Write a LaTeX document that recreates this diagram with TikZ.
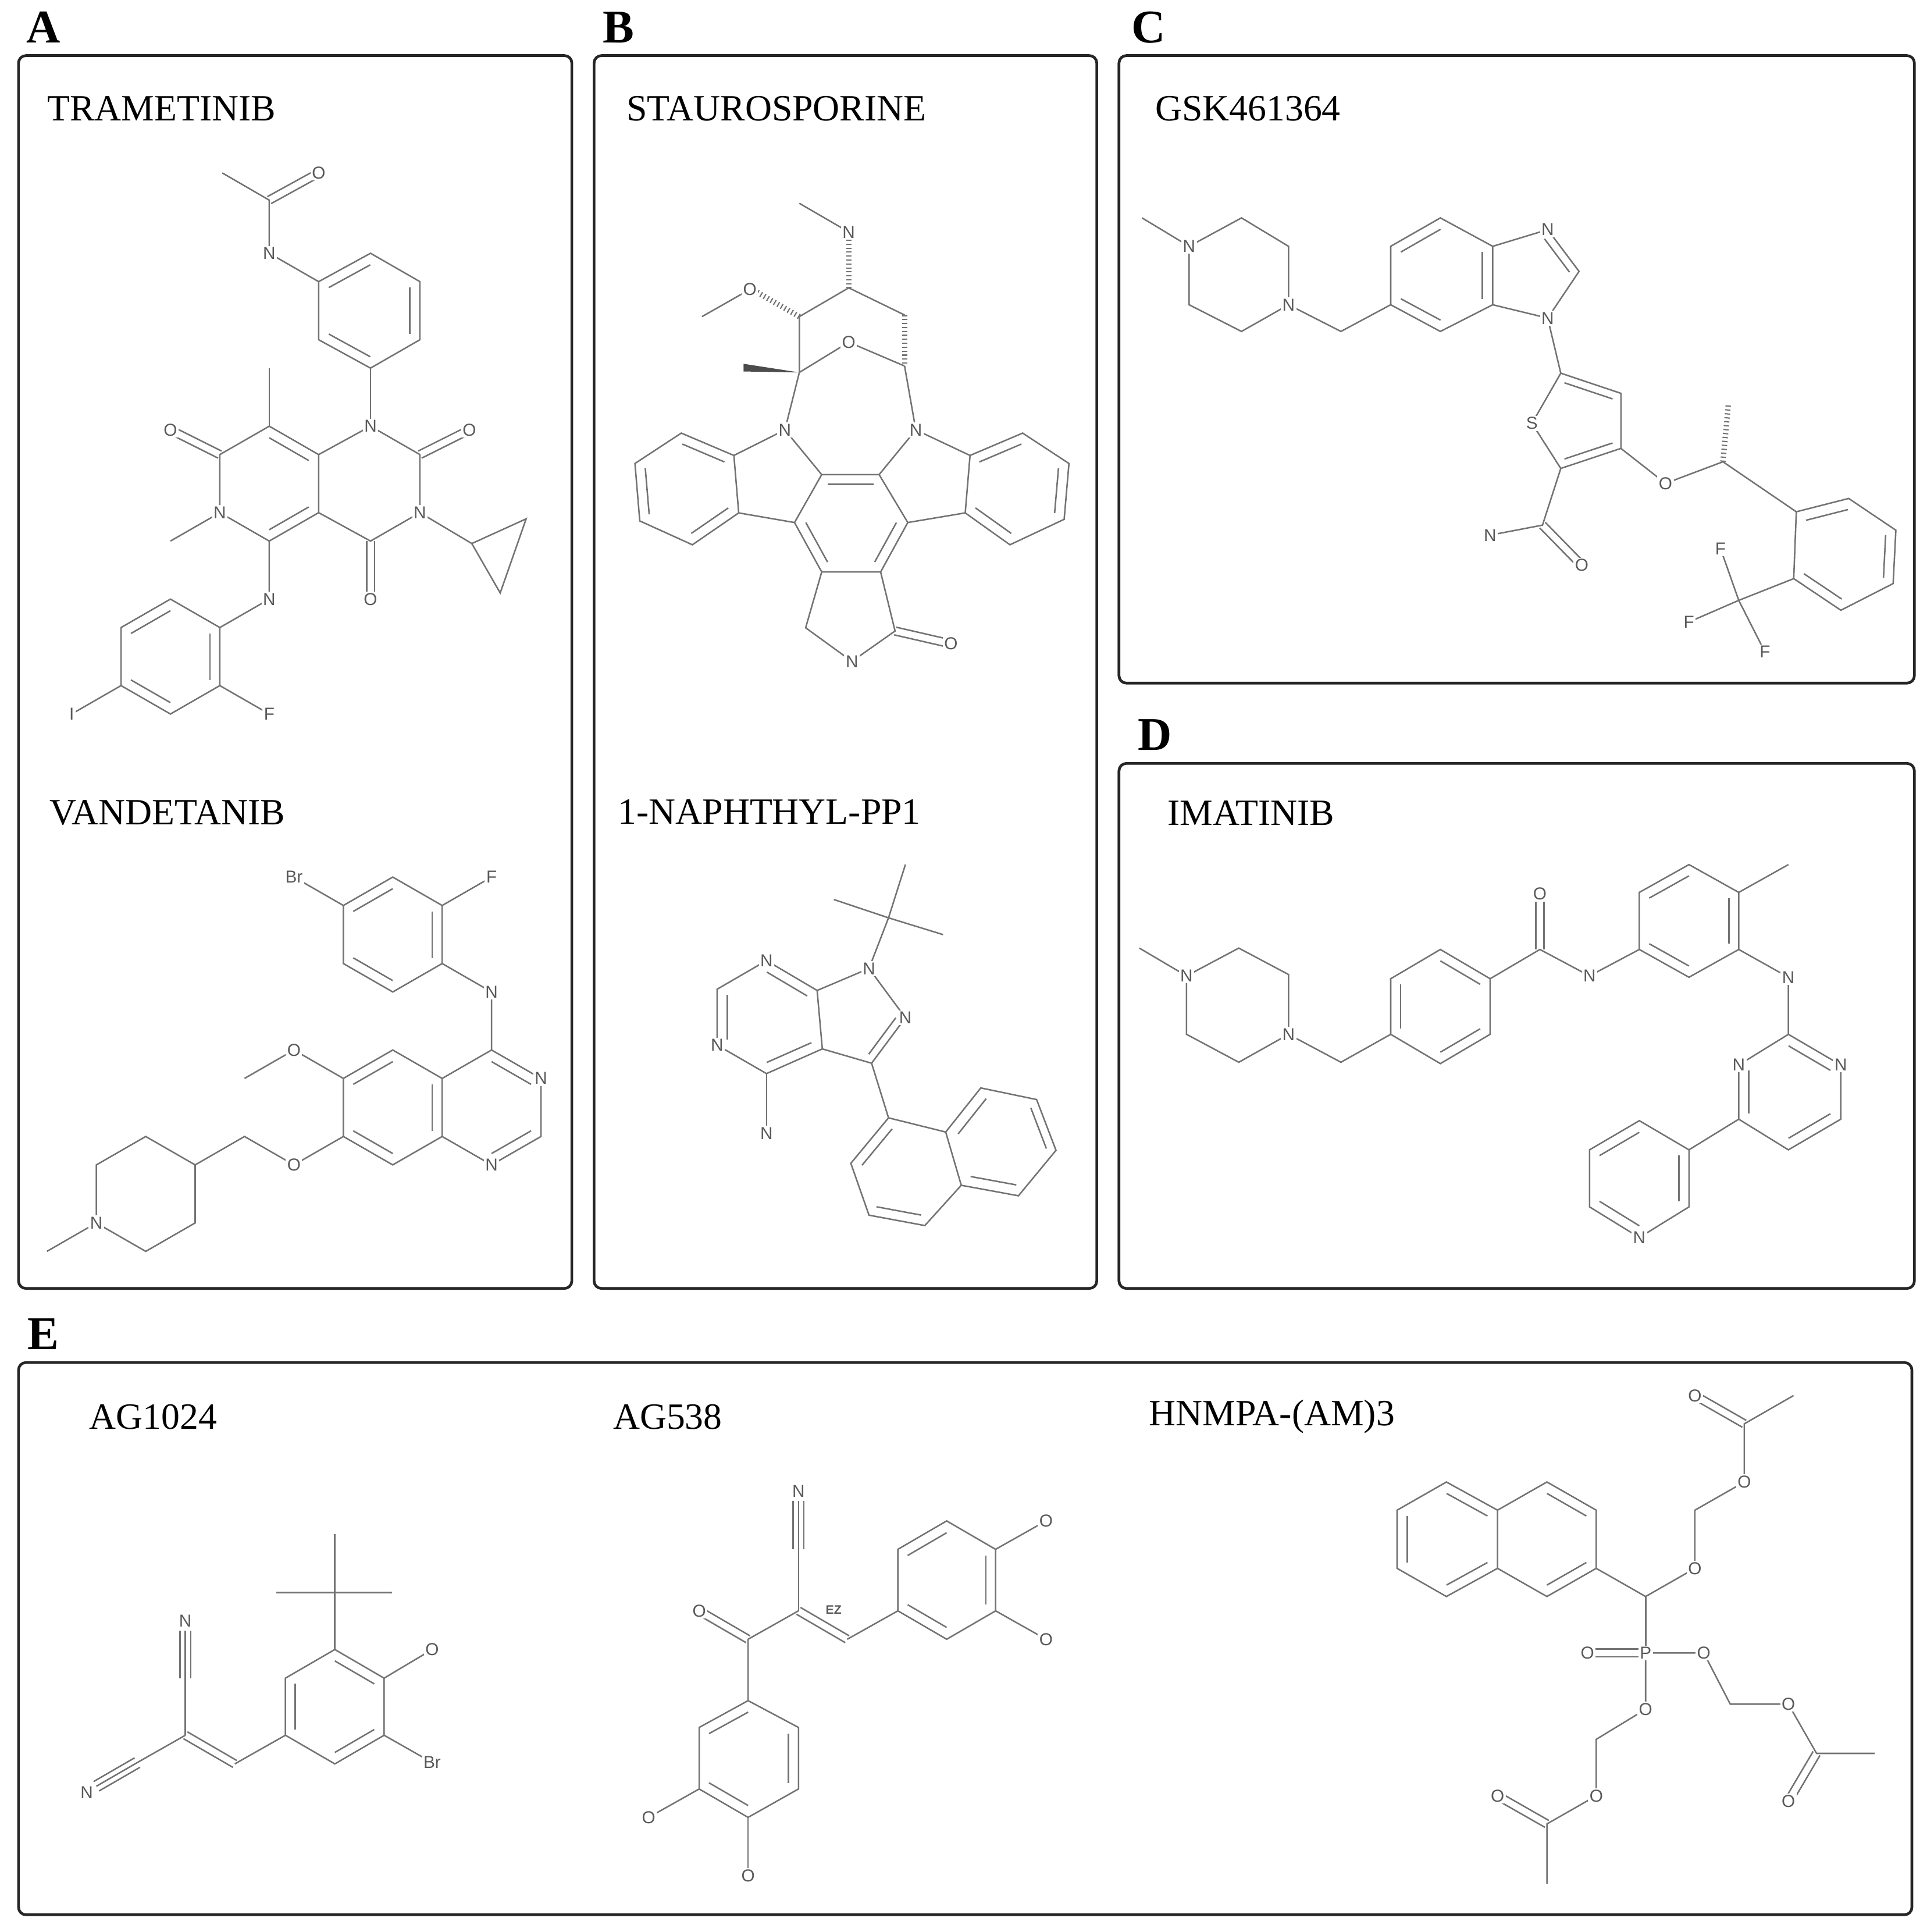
\documentclass[tikz,border=0pt]{standalone}
\usepackage{fontspec}
\setmainfont{Liberation Serif}
\newfontfamily\atomfont{Liberation Sans}
\usetikzlibrary{calc}

\newcommand{\ringdb}[3]{\draw[bond] ($(#1)!0.2!(#3)$) -- ($(#2)!0.2!(#3)$);}
\newcommand{\sidedb}[2]{\draw[bond] ($(#1)!1.6pt!90:(#2)$) -- ($(#2)!1.6pt!-90:(#1)$);
  \draw[bond] ($(#1)!1.6pt!-90:(#2)$) -- ($(#2)!1.6pt!90:(#1)$);}
\newcommand{\tripb}[2]{\draw[bond] (#1) -- (#2);
  \draw[bond] ($(#1)!2.2pt!90:(#2)$) -- ($(#2)!2.2pt!-90:(#1)$);
  \draw[bond] ($(#1)!2.2pt!-90:(#2)$) -- ($(#2)!2.2pt!90:(#1)$);}

\begin{document}
\begin{tikzpicture}[x=0.5pt, y=-0.5pt,
    bond/.style={draw=black!55, line width=0.6pt},
    hashb/.style={draw=black!55, line width=2.2pt, dash pattern=on 0.5pt off 1.1pt},
    atom/.style={fill=white, inner sep=0.6pt, text=black!65, font=\atomfont\fontsize{7}{8}\selectfont},
    panel/.style={draw=black!85, line width=1.1pt, rounded corners=3pt},
    title/.style={anchor=west, inner sep=0pt, font=\fontsize{15}{18}\selectfont},
    letter/.style={font=\bfseries\fontsize{19}{22}\selectfont}]
    \path[use as bounding box] (0,0) rectangle (1560,1564);

    % panels
    \draw[panel] (15,45) rectangle (463,1043);
    \draw[panel] (481,45) rectangle (888,1043);
    \draw[panel] (906,45) rectangle (1550,553);
    \draw[panel] (906,618) rectangle (1550,1043);
    \draw[panel] (15,1103) rectangle (1548,1550);
    \node[letter] (lA) at (35,22) {A};
    \node[letter] (lB) at (501,22) {B};
    \node[letter] (lC) at (930,22) {C};
    \node[letter] (lD) at (935,595) {D};
    \node[letter] (lE) at (35,1080) {E};

    \node[title] (tTra) at (38,88) {TRAMETINIB};
    \node[title] (tVan) at (40,658) {VANDETANIB};
    \node[title] (tSta) at (507,88) {STAUROSPORINE};
    \node[title] (tNap) at (500,657) {1-NAPHTHYL-PP1};
    \node[title] (tGsk) at (935,88) {GSK461364};
    \node[title] (tIma) at (945,658) {IMATINIB};
    \node[title] (tAga) at (72,1147) {AG1024};
    \node[title] (tAgb) at (496,1147) {AG538};
    \node[title] (tHnm) at (930,1147) {HNMPA-(AM)3};

    % trametinib
    \draw[bond] (180,140) -- (218,162) -- (218,205) -- (258,228);
    \sidedb{218,162}{258,140}
    \draw[bond] (258,228) -- (300,205) -- (340,228) -- (340,275) -- (300,298) -- (258,275) -- cycle;
    \ringdb{258,228}{300,205}{299,252} \ringdb{340,228}{340,275}{299,252} \ringdb{300,298}{258,275}{299,252}
    \draw[bond] (300,298) -- (300,345);
    \draw[bond] (300,345) -- (340,368) -- (340,415) -- (300,438) -- (258,415) -- (258,368) -- cycle;
    \draw[bond] (258,368) -- (218,345) -- (178,368) -- (178,415) -- (218,438) -- (258,415);
    \ringdb{258,368}{218,345}{218,392} \ringdb{258,415}{218,438}{218,392}
    \draw[bond] (218,345) -- (218,298);
    \sidedb{340,368}{380,348} \sidedb{300,438}{300,485} \sidedb{178,368}{138,348}
    \draw[bond] (178,415) -- (138,438);
    \draw[bond] (340,415) -- (382,440);
    \draw[bond] (382,440) -- (426,420) -- (405,480) -- cycle;
    \draw[bond] (218,438) -- (218,485) -- (178,508);
    \draw[bond] (178,508) -- (178,555) -- (138,578) -- (98,555) -- (98,508) -- (138,485) -- cycle;
    \ringdb{178,508}{178,555}{138,532} \ringdb{138,578}{98,555}{138,532} \ringdb{98,508}{138,485}{138,532}
    \draw[bond] (98,555) -- (58,578);
    \draw[bond] (178,555) -- (218,578);
    \node[atom] (t1) at (258,140) {O};
    \node[atom] (t2) at (218,205) {N};
    \node[atom] (t3) at (300,345) {N};
    \node[atom] (t4) at (380,348) {O};
    \node[atom] (t5) at (340,415) {N};
    \node[atom] (t6) at (300,485) {O};
    \node[atom] (t7) at (138,348) {O};
    \node[atom] (t8) at (178,415) {N};
    \node[atom] (t9) at (218,485) {N};
    \node[atom] (t10) at (58,578) {I};
    \node[atom] (t11) at (218,578) {F};

    % vandetanib
    \draw[bond] (278,733) -- (318,710) -- (358,733) -- (358,780) -- (318,803) -- (278,780) -- cycle;
    \ringdb{278,733}{318,710}{318,757} \ringdb{358,733}{358,780}{318,757} \ringdb{318,803}{278,780}{318,757}
    \draw[bond] (278,733) -- (238,710);
    \draw[bond] (358,733) -- (398,710);
    \draw[bond] (358,780) -- (398,803) -- (398,850);
    \draw[bond] (398,850) -- (438,873) -- (438,920) -- (398,943) -- (358,920) -- (358,873) -- cycle;
    \draw[bond] (358,873) -- (318,850) -- (278,873) -- (278,920) -- (318,943) -- (358,920);
    \ringdb{398,850}{438,873}{398,897} \ringdb{438,920}{398,943}{398,897}
    \ringdb{318,850}{278,873}{318,897} \ringdb{278,920}{318,943}{318,897} \ringdb{358,873}{358,920}{318,897}
    \draw[bond] (278,873) -- (238,850) -- (198,873);
    \draw[bond] (278,920) -- (238,943) -- (198,920) -- (158,943);
    \draw[bond] (158,943) -- (158,990) -- (118,1013) -- (78,990) -- (78,943) -- (118,920) -- cycle;
    \draw[bond] (78,990) -- (38,1013);
    \node[atom] (v1) at (238,710) {Br};
    \node[atom] (v2) at (398,710) {F};
    \node[atom] (v3) at (398,803) {N};
    \node[atom] (v4) at (438,873) {N};
    \node[atom] (v5) at (398,943) {N};
    \node[atom] (v6) at (238,850) {O};
    \node[atom] (v7) at (238,943) {O};
    \node[atom] (v8) at (78,990) {N};

    % staurosporine
    \draw[bond] (647.2,164.6) -- (687.2,187.8);
    \draw[hashb] (687.2,194) -- (687.2,233);
    \draw[bond] (687.2,233) -- (647.2,256.3) -- (647.2,301.5);
    \draw[hashb] (647.2,256.3) -- (612,236);
    \draw[bond] (607.1,234.3) -- (568.4,256.3);
    \draw[bond] (687.2,233) -- (732.4,255);
    \draw[hashb] (732.4,255) -- (732.4,296.3);
    \draw[bond] (647.2,301.5) -- (687.2,277) -- (732.4,296.3);
    \fill[black!70] (647.2,301.5) -- (602,294.5) -- (602,300.7) -- cycle;
    \draw[bond] (647.2,301.5) -- (635.5,348);
    \draw[bond] (732.4,296.3) -- (741.5,348);
    \draw[bond] (635.5,348) -- (594.2,368.7);
    \draw[bond] (635.5,348) -- (665.3,384.2);
    \draw[bond] (741.5,348) -- (785.4,368.7);
    \draw[bond] (741.5,348) -- (711.8,384.2);
    \draw[bond] (665.3,384.2) -- (711.8,384.2) -- (735,423) -- (713,463) -- (665.3,463) -- (643.3,423) -- cycle;
    \ringdb{665.3,384.2}{711.8,384.2}{689,423} \ringdb{643.3,423}{665.3,463}{689,423} \ringdb{735,423}{713,463}{689,423}
    \draw[bond] (594.2,368.7) -- (551.6,350.6) -- (514.1,375.2) -- (518,421.7) -- (560.6,441) -- (598.1,415.2) -- cycle;
    \ringdb{594.2,368.7}{551.6,350.6}{556,395} \ringdb{514.1,375.2}{518,421.7}{556,395} \ringdb{560.6,441}{598.1,415.2}{556,395}
    \draw[bond] (598.1,415.2) -- (643.3,423);
    \draw[bond] (785.4,368.7) -- (828,350.6) -- (865.5,375.2) -- (861.6,420.4) -- (817.7,441) -- (781.5,415.2) -- cycle;
    \ringdb{785.4,368.7}{828,350.6}{823,395} \ringdb{865.5,375.2}{861.6,420.4}{823,395} \ringdb{817.7,441}{781.5,415.2}{823,395}
    \draw[bond] (781.5,415.2) -- (735,423);
    \draw[bond] (665.3,463) -- (652.3,508.2) -- (689.8,535.4) -- (724.7,510.8) -- (713,463);
    \sidedb{724.7,510.8}{770,521.2}
    \node[atom] (s1) at (687.2,187.8) {N};
    \node[atom] (s2) at (607.1,234.3) {O};
    \node[atom] (s3) at (687.2,277) {O};
    \node[atom] (s4) at (635.5,348) {N};
    \node[atom] (s5) at (741.5,348) {N};
    \node[atom] (s6) at (689.8,535.4) {N};
    \node[atom] (s7) at (770,521.2) {O};

    % 1-naphthyl-PP1
    \draw[bond] (719.4,743) -- (733.1,699.8);
    \draw[bond] (719.4,743) -- (675.2,728.2);
    \draw[bond] (719.4,743) -- (763.6,756.6);
    \draw[bond] (719.4,743) -- (703.6,784);
    \draw[bond] (703.6,784) -- (733.1,823.9) -- (705.7,860.7) -- (665.8,849.1) -- (661.6,801.8) -- cycle;
    \draw[bond] (661.6,801.8) -- (620.6,777.6) -- (580.6,800.8) -- (580.6,846) -- (620.6,869.1) -- (665.8,849.1);
    \ringdb{733.1,823.9}{705.7,860.7}{694,824}
    \ringdb{661.6,801.8}{620.6,777.6}{621.6,824} \ringdb{580.6,800.8}{580.6,846}{621.6,824} \ringdb{620.6,869.1}{665.8,849.1}{621.6,824}
    \draw[bond] (620.6,869.1) -- (620.6,917.5);
    \draw[bond] (705.7,860.7) -- (719.4,904.9);
    \draw[bond] (719.4,904.9) -- (688.9,941.7) -- (703.6,983.7) -- (748.8,992.1) -- (778.3,959.5) -- (765.7,916.4) -- cycle;
    \draw[bond] (765.7,916.4) -- (794.1,880.7) -- (839.3,890.1) -- (855,931.2) -- (824.6,968) -- (778.3,959.5);
    \ringdb{719.4,904.9}{688.9,941.7}{734,949.7} \ringdb{703.6,983.7}{748.8,992.1}{734,949.7}
    \ringdb{765.7,916.4}{794.1,880.7}{816,924} \ringdb{839.3,890.1}{855,931.2}{816,924} \ringdb{824.6,968}{778.3,959.5}{816,924}
    \node[atom] (p1) at (703.6,784) {N};
    \node[atom] (p2) at (733.1,823.9) {N};
    \node[atom] (p3) at (620.6,777.6) {N};
    \node[atom] (p4) at (580.6,846) {N};
    \node[atom] (p5) at (620.6,917.5) {N};

    % GSK461364
    \draw[bond] (924.7,176.4) -- (962.8,199.4);
    \draw[bond] (962.8,199.4) -- (1005.2,176.4) -- (1043.3,199.4) -- (1043.3,246.7) -- (1005.2,268.3) -- (962.8,246.7) -- cycle;
    \draw[bond] (1043.3,246.7) -- (1085.7,268.3) -- (1126,246.7);
    \draw[bond] (1126,246.7) -- (1126,199.4) -- (1166.2,176.4) -- (1208.6,199.4) -- (1208.6,246.7) -- (1166.2,268.3) -- cycle;
    \ringdb{1126,199.4}{1166.2,176.4}{1167,222.5} \ringdb{1208.6,199.4}{1208.6,246.7}{1167,222.5} \ringdb{1126,246.7}{1166.2,268.3}{1167,222.5}
    \draw[bond] (1208.6,199.4) -- (1253.1,185.9) -- (1278.5,219.7) -- (1253.1,257.5) -- (1208.6,246.7);
    \ringdb{1253.1,185.9}{1278.5,219.7}{1240,223}
    \draw[bond] (1253.1,257.5) -- (1263.7,302.1);
    \draw[bond] (1263.7,302.1) -- (1312.4,318.4) -- (1312.4,363) -- (1263.7,379.2) -- (1240.4,342.7) -- cycle;
    \ringdb{1263.7,302.1}{1312.4,318.4}{1278.5,341} \ringdb{1312.4,363}{1263.7,379.2}{1278.5,341}
    \draw[bond] (1312.4,363) -- (1348.5,391.3) -- (1395,373.8) -- (1454.4,414.3);
    \draw[hashb] (1395,373.8) -- (1399.3,327.8);
    \draw[bond] (1454.4,414.3) -- (1496.8,403.5) -- (1535,429.2) -- (1532.8,472.4) -- (1490.5,494) -- (1452.3,468.4) -- cycle;
    \ringdb{1454.4,414.3}{1496.8,403.5}{1493.7,448.6} \ringdb{1535,429.2}{1532.8,472.4}{1493.7,448.6} \ringdb{1490.5,494}{1452.3,468.4}{1493.7,448.6}
    \draw[bond] (1452.3,468.4) -- (1407.8,486);
    \draw[bond] (1407.8,486) -- (1393,444);
    \draw[bond] (1407.8,486) -- (1367.5,503.5);
    \draw[bond] (1407.8,486) -- (1429,527.8);
    \draw[bond] (1263.7,379.2) -- (1248.9,425.1) -- (1206.5,433.2);
    \sidedb{1248.9,425.1}{1280.7,457.6}
    \node[atom] (g1) at (962.8,199.4) {N};
    \node[atom] (g2) at (1043.3,246.7) {N};
    \node[atom] (g3) at (1253.1,185.9) {N};
    \node[atom] (g4) at (1253.1,257.5) {N};
    \node[atom] (g5) at (1240.4,342.7) {S};
    \node[atom] (g6) at (1348.5,391.3) {O};
    \node[atom] (g7) at (1206.5,433.2) {N};
    \node[atom] (g8) at (1280.7,457.6) {O};
    \node[atom] (g9) at (1393,444) {F};
    \node[atom] (g10) at (1367.5,503.5) {F};
    \node[atom] (g11) at (1429,527.8) {F};

    % imatinib
    \draw[bond] (922.5,767.5) -- (960.7,790);
    \draw[bond] (960.7,790) -- (1003,767.5) -- (1043.3,788.9) -- (1043.3,837.3) -- (1003,859.9) -- (960.7,837.3) -- cycle;
    \draw[bond] (1043.3,837.3) -- (1085.7,859.9) -- (1126,837.3);
    \draw[bond] (1126,837.3) -- (1126,792.3) -- (1166.2,768.6) -- (1206.5,792.3) -- (1206.5,837.3) -- (1166.2,861) -- cycle;
    \ringdb{1166.2,768.6}{1206.5,792.3}{1166.2,814.8} \ringdb{1126,792.3}{1126,837.3}{1166.2,814.8} \ringdb{1206.5,837.3}{1166.2,861}{1166.2,814.8}
    \draw[bond] (1206.5,792.3) -- (1246.8,768.6) -- (1287,790) -- (1327.3,768.6);
    \sidedb{1246.8,768.6}{1246.8,723.6}
    \draw[bond] (1327.3,768.6) -- (1327.3,722.4) -- (1367.5,699.9) -- (1407.8,722.4) -- (1407.8,768.6) -- (1367.5,791.1) -- cycle;
    \ringdb{1327.3,722.4}{1367.5,699.9}{1367.5,745.5} \ringdb{1407.8,722.4}{1407.8,768.6}{1367.5,745.5} \ringdb{1327.3,768.6}{1367.5,791.1}{1367.5,745.5}
    \draw[bond] (1407.8,722.4) -- (1448,699.9);
    \draw[bond] (1407.8,768.6) -- (1448,791.1) -- (1448,837.3);
    \draw[bond] (1448,837.3) -- (1490.4,862.1) -- (1490.4,906) -- (1448,930.8) -- (1407.8,906) -- (1407.8,862.1) -- cycle;
    \ringdb{1448,837.3}{1490.4,862.1}{1448.5,884} \ringdb{1490.4,906}{1448,930.8}{1448.5,884} \ringdb{1407.8,906}{1407.8,862.1}{1448.5,884}
    \draw[bond] (1407.8,906) -- (1367.5,930.8);
    \draw[bond] (1367.5,930.8) -- (1327.3,907.2) -- (1287,930.8) -- (1287,977) -- (1327.3,1001.8) -- (1367.5,977) -- cycle;
    \ringdb{1327.3,907.2}{1287,930.8}{1327.3,954.3} \ringdb{1287,977}{1327.3,1001.8}{1327.3,954.3} \ringdb{1367.5,930.8}{1367.5,977}{1327.3,954.3}
    \node[atom] (i1) at (960.7,790) {N};
    \node[atom] (i2) at (1043.3,837.3) {N};
    \node[atom] (i3) at (1246.8,723.6) {O};
    \node[atom] (i4) at (1287,790) {N};
    \node[atom] (i5) at (1448,791.1) {N};
    \node[atom] (i6) at (1490.4,862.1) {N};
    \node[atom] (i7) at (1407.8,862.1) {N};
    \node[atom] (i8) at (1327.3,1001.8) {N};

    % AG1024
    \draw[bond] (271.1,1289.1) -- (271.1,1241.7);
    \draw[bond] (223.8,1289.1) -- (317.3,1289.1);
    \draw[bond] (271.1,1289.1) -- (271.1,1335.3);
    \draw[bond] (271.1,1335.3) -- (311,1358.5) -- (311,1404.7) -- (271.1,1427.9) -- (231.1,1404.7) -- (231.1,1358.5) -- cycle;
    \ringdb{271.1,1335.3}{311,1358.5}{271.1,1381.6} \ringdb{311,1404.7}{271.1,1427.9}{271.1,1381.6} \ringdb{231.1,1404.7}{231.1,1358.5}{271.1,1381.6}
    \draw[bond] (311,1358.5) -- (349.9,1335.3);
    \draw[bond] (311,1404.7) -- (349.9,1426.8);
    \draw[bond] (231.1,1404.7) -- (190.1,1427.9);
    \sidedb{190.1,1427.9}{150.1,1404.7}
    \draw[bond] (150.1,1404.7) -- (150.1,1358.5);
    \tripb{150.1,1358.5}{150.1,1320}
    \draw[bond] (150.1,1404.7) -- (111.2,1426.8);
    \tripb{111.2,1426.8}{78,1446}
    \node[atom] (a1) at (349.9,1335.3) {O};
    \node[atom] (a2) at (349.9,1426.8) {Br};
    \node[atom] (a3) at (150.1,1312.2) {N};
    \node[atom] (a4) at (70.2,1451) {N};

    % AG538
    \tripb{646.5,1254.2}{646.5,1215}
    \draw[bond] (646.5,1254.2) -- (646.5,1304);
    \sidedb{646.5,1304}{686,1327}
    \draw[bond] (686,1327) -- (727,1304);
    \draw[bond] (727,1304) -- (727,1254.2) -- (766.5,1231.2) -- (806.1,1254.2) -- (806.1,1304) -- (766.5,1327) -- cycle;
    \ringdb{727,1254.2}{766.5,1231.2}{766.5,1279.1} \ringdb{806.1,1254.2}{806.1,1304}{766.5,1279.1} \ringdb{727,1304}{766.5,1327}{766.5,1279.1}
    \draw[bond] (806.1,1254.2) -- (846.9,1231.2);
    \draw[bond] (806.1,1304) -- (846.9,1327);
    \draw[bond] (646.5,1304) -- (605.7,1327) -- (605.7,1376.7);
    \sidedb{605.7,1327}{566.1,1304}
    \draw[bond] (605.7,1376.7) -- (646.5,1398.4) -- (646.5,1448.2) -- (605.7,1471.2) -- (566.1,1448.2) -- (566.1,1398.4) -- cycle;
    \ringdb{605.7,1376.7}{566.1,1398.4}{606,1423.3} \ringdb{646.5,1398.4}{646.5,1448.2}{606,1423.3} \ringdb{605.7,1471.2}{566.1,1448.2}{606,1423.3}
    \draw[bond] (566.1,1448.2) -- (525.2,1471.2);
    \draw[bond] (605.7,1471.2) -- (605.7,1518.4);
    \node[atom] (b1) at (646.5,1207) {N};
    \node[atom, font=\atomfont\bfseries\fontsize{5}{6}\selectfont, fill=none] (b2) at (675,1303) {EZ};
    \node[atom] (b3) at (846.9,1231.2) {O};
    \node[atom] (b4) at (846.9,1327) {O};
    \node[atom] (b5) at (566.1,1304) {O};
    \node[atom] (b6) at (525.2,1471.2) {O};
    \node[atom] (b7) at (605.7,1518.4) {O};

    % HNMPA-(AM)3
    \draw[bond] (1131.2,1222.5) -- (1171.1,1199.7) -- (1212.5,1222.5) -- (1212.5,1269.6) -- (1171.1,1292.4) -- (1131.2,1269.6) -- cycle;
    \draw[bond] (1212.5,1222.5) -- (1252.5,1199.7) -- (1292.4,1222.5) -- (1292.4,1269.6) -- (1252.5,1292.4) -- (1212.5,1269.6);
    \ringdb{1171.1,1199.7}{1212.5,1222.5}{1171.8,1246} \ringdb{1131.2,1222.5}{1131.2,1269.6}{1171.8,1246} \ringdb{1171.1,1292.4}{1212.5,1269.6}{1171.8,1246}
    \ringdb{1252.5,1199.7}{1292.4,1222.5}{1252.5,1246} \ringdb{1292.4,1269.6}{1252.5,1292.4}{1252.5,1246}
    \draw[bond] (1292.4,1269.6) -- (1332.4,1292.4) -- (1372.3,1269.6) -- (1372.3,1222.5) -- (1412.3,1199.7) -- (1412.3,1152.6) -- (1452.2,1129.7);
    \sidedb{1412.3,1152.6}{1372.3,1129.7}
    \draw[bond] (1332.4,1292.4) -- (1332.4,1338.1);
    \sidedb{1332.4,1338.1}{1285.3,1338.1}
    \draw[bond] (1332.4,1338.1) -- (1379.5,1338.1) -- (1400.9,1379.5) -- (1448,1379.5) -- (1470.8,1419.4) -- (1517.9,1419.4);
    \sidedb{1470.8,1419.4}{1448,1458}
    \draw[bond] (1332.4,1338.1) -- (1332.4,1383.7) -- (1292.4,1408) -- (1292.4,1453.7) -- (1252.5,1476.5) -- (1252.5,1525);
    \sidedb{1252.5,1476.5}{1212.5,1453.7}
    \node[atom] (h1) at (1372.3,1269.6) {O};
    \node[atom] (h2) at (1412.3,1199.7) {O};
    \node[atom] (h3) at (1372.3,1129.7) {O};
    \node[atom] (h4) at (1332.4,1338.1) {P};
    \node[atom] (h5) at (1285.3,1338.1) {O};
    \node[atom] (h6) at (1379.5,1338.1) {O};
    \node[atom] (h7) at (1448,1379.5) {O};
    \node[atom] (h8) at (1448,1458) {O};
    \node[atom] (h9) at (1332.4,1383.7) {O};
    \node[atom] (h10) at (1292.4,1453.7) {O};
    \node[atom] (h11) at (1212.5,1453.7) {O};
\end{tikzpicture}
\end{document}
